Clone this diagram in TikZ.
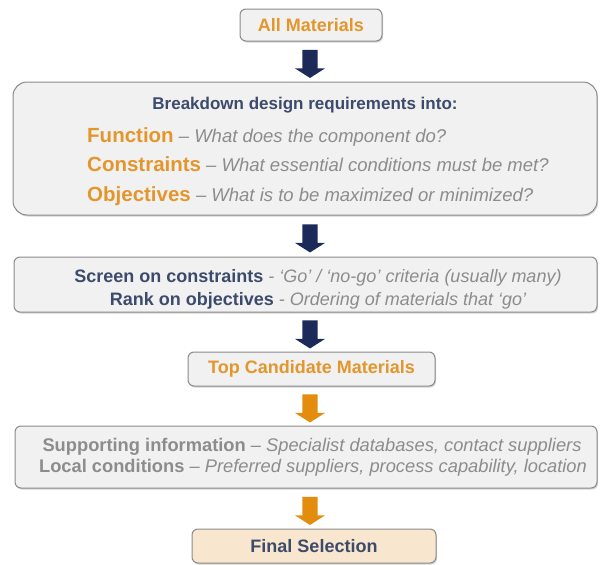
\documentclass[tikz,border=0pt]{standalone}
\usepackage{fontspec}
\setmainfont{Liberation Sans}
\usetikzlibrary{shapes.arrows,shadows}
\definecolor{matorange}{HTML}{E3962C}
\definecolor{matnavy}{HTML}{3C4A6C}
\definecolor{matgrey}{HTML}{8C8C8C}
\definecolor{boxfill}{HTML}{F1F1F1}
\definecolor{boxline}{HTML}{8A8A8A}
\definecolor{finalfill}{HTML}{F8E7CE}
\definecolor{arrownavy}{HTML}{1C2A5A}
\definecolor{arrowmid}{HTML}{2E4888}
\definecolor{arroworange}{HTML}{E48C0E}
\definecolor{arrowyellow}{HTML}{F9BE38}

\tikzset{
  stagebox/.style={draw=boxline, line width=1pt, fill=boxfill, rounded corners=6pt,
    drop shadow={shadow xshift=1pt, shadow yshift=-1.5pt, opacity=0.35}, inner sep=0pt},
  bigbox/.style={stagebox, rounded corners=14pt},
  boxlabel/.style={font=\bfseries\fontsize{18}{21}\selectfont},
  linetext/.style={inner sep=0pt, text height=13pt, text depth=4pt},
  downarrow/.style={single arrow, shape border rotate=270, minimum width=30pt,
    single arrow head extend=7.5pt, single arrow tip angle=115, minimum height=28pt,
    inner sep=7.5pt, draw=none, xshift=-1pt},
  navyarrow/.style={downarrow, left color=arrownavy, middle color=arrowmid, right color=arrownavy},
  orangearrow/.style={downarrow, left color=arroworange, middle color=arrowyellow, right color=arroworange},
}
\newcommand{\gi}[1]{{\color{matgrey}\itshape #1}}

\begin{document}
\begin{tikzpicture}[x=1pt, y=-1pt]
  \useasboundingbox (0,0) rectangle (608,565);
  % Boxes
  \node[stagebox, boxlabel, text=matorange, minimum width=142pt, minimum height=32pt] (all) at (311,25) {All Materials};
  \node[bigbox, minimum width=584pt, minimum height=133pt] (reqs) at (305,148.5) {};
  \node[stagebox, minimum width=583pt, minimum height=55pt] (screen) at (305.5,284.5) {};
  \node[stagebox, boxlabel, text=matorange, minimum width=247pt, minimum height=34pt] (top) at (311.5,369) {Top Candidate Materials};
  \node[stagebox, minimum width=582pt, minimum height=62pt] (support) at (306,457) {};
  \node[stagebox, fill=finalfill, boxlabel, text=matnavy, minimum width=244pt, minimum height=34pt] (final) at (314,546) {Final Selection};
  % Requirements
  \node[linetext, font=\bfseries\fontsize{17}{20}\selectfont, text=matnavy] (title) at (305,105) {Breakdown design requirements into:};
  \node[linetext, anchor=west, font=\fontsize{18.5}{22}\selectfont] (func) at (87,137.5)
    {{\bfseries\color{matorange}\fontsize{20.5}{24}\selectfont Function} \gi{– What does the component do?}};
  \node[linetext, anchor=west, font=\fontsize{18.5}{22}\selectfont] (cons) at (87,166.5)
    {{\bfseries\color{matorange}\fontsize{20.5}{24}\selectfont Constraints} \gi{– What essential conditions must be met?}};
  \node[linetext, anchor=west, font=\fontsize{18.5}{22}\selectfont] (obj) at (87,196.5)
    {{\bfseries\color{matorange}\fontsize{20.5}{24}\selectfont Objectives} \gi{– What is to be maximized or minimized?}};
  % Screening
  \node[linetext, font=\fontsize{18}{21}\selectfont] (scr) at (318,277.5)
    {{\bfseries\color{matnavy}Screen on constraints} \gi{- ‘Go’ / ‘no-go’ criteria (usually many)}};
  \node[linetext, font=\fontsize{18}{21}\selectfont] (rank) at (318,300.5)
    {{\bfseries\color{matnavy}Rank on objectives} \gi{- Ordering of materials that ‘go’}};
  % Supporting information
  \node[linetext, font=\fontsize{18.3}{22}\selectfont] (info) at (312,447)
    {{\bfseries\color{matgrey}Supporting information} \gi{– Specialist databases, contact suppliers}};
  \node[linetext, font=\fontsize{18.3}{22}\selectfont] (local) at (313,468)
    {{\bfseries\color{matgrey}Local conditions} \gi{– Preferred suppliers, process capability, location}};
  % Arrows
  \path (all.south) -- (reqs.north -| all) node[midway, navyarrow] (a1) {};
  \path (reqs.south -| all) -- (screen.north -| all) node[midway, navyarrow] (a2) {};
  \path (screen.south -| all) -- (top.north -| all) node[midway, navyarrow] (a3) {};
  \path (top.south -| all) -- (support.north -| all) node[midway, orangearrow] (a4) {};
  \path (support.south -| all) -- (final.north -| all) node[midway, orangearrow] (a5) {};
\end{tikzpicture}
\end{document}
